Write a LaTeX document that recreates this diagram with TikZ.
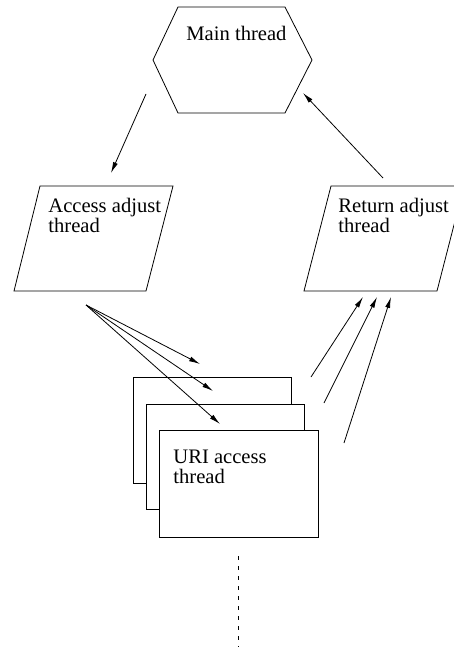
\documentclass[tikz,border=0pt]{standalone}
\usepackage{fontspec}
\setmainfont{Liberation Serif}
\usetikzlibrary{arrows.meta}
\begin{document}
\begin{tikzpicture}[x=1pt,y=-1pt,line width=0.8pt,
    lbl/.style={anchor=base west,align=left,inner sep=0pt,
      font=\fontsize{20.6}{19.6}\selectfont},
    flow/.style={-{Latex[length=11pt,width=5pt]}},
    card/.style={draw,fill=white}]
  \useasboundingbox (0,0) rectangle (454,647);
  \clip (0,0) rectangle (454,647);
  % shapes
  \draw (178,7) -- (285,7) -- (312,60) -- (285,113) -- (178,113) -- (153,60) -- cycle;
  \draw (40,186) -- (173,186) -- (146,291) -- (14,291) -- cycle;
  \draw (331,186) -- (464,186) -- (437,291) -- (304,291) -- cycle;
  \draw[card] (133,377) rectangle (291,483);
  \draw[card] (146,404) rectangle (304,509);
  \draw[card] (159,430) rectangle (318,537);
  % labels (base = last line)
  \node[lbl] (main) at (186,41) {Main thread};
  \node[lbl] (access) at (48,232) {Access adjust\\thread};
  \node[lbl] (return) at (338,232) {Return adjust\\thread};
  \node[lbl] (uri) at (173,483) {URI access\\thread};
  % connector ends
  \coordinate (m0) at (146,94);
  \coordinate (a0) at (111,173);
  \coordinate (r0) at (383,178);
  \coordinate (m1) at (303,93);
  \coordinate (a1) at (86,305);
  \coordinate (u1) at (200,364);
  \coordinate (u2) at (213,391);
  \coordinate (u3) at (220,424);
  \coordinate (v1) at (311,377);
  \coordinate (v2) at (324,403);
  \coordinate (v3) at (344,443);
  \coordinate (r1) at (363,297);
  \coordinate (r2) at (377,297);
  \coordinate (r3) at (391,297);
  \coordinate (d0) at (238,556);
  \coordinate (d1) at (238,647);
  \begin{scope}[flow]
    \draw (m0) to (a0);
    \draw (r0) to (m1);
    \draw (a1) to (u1);
    \draw (a1) to (u2);
    \draw (a1) to (u3);
    \draw (v1) to (r1);
    \draw (v2) to (r2);
    \draw (v3) to (r3);
  \end{scope}
  \draw[dash pattern=on 4pt off 6pt] (d0) -- (d1);
\end{tikzpicture}
\end{document}
